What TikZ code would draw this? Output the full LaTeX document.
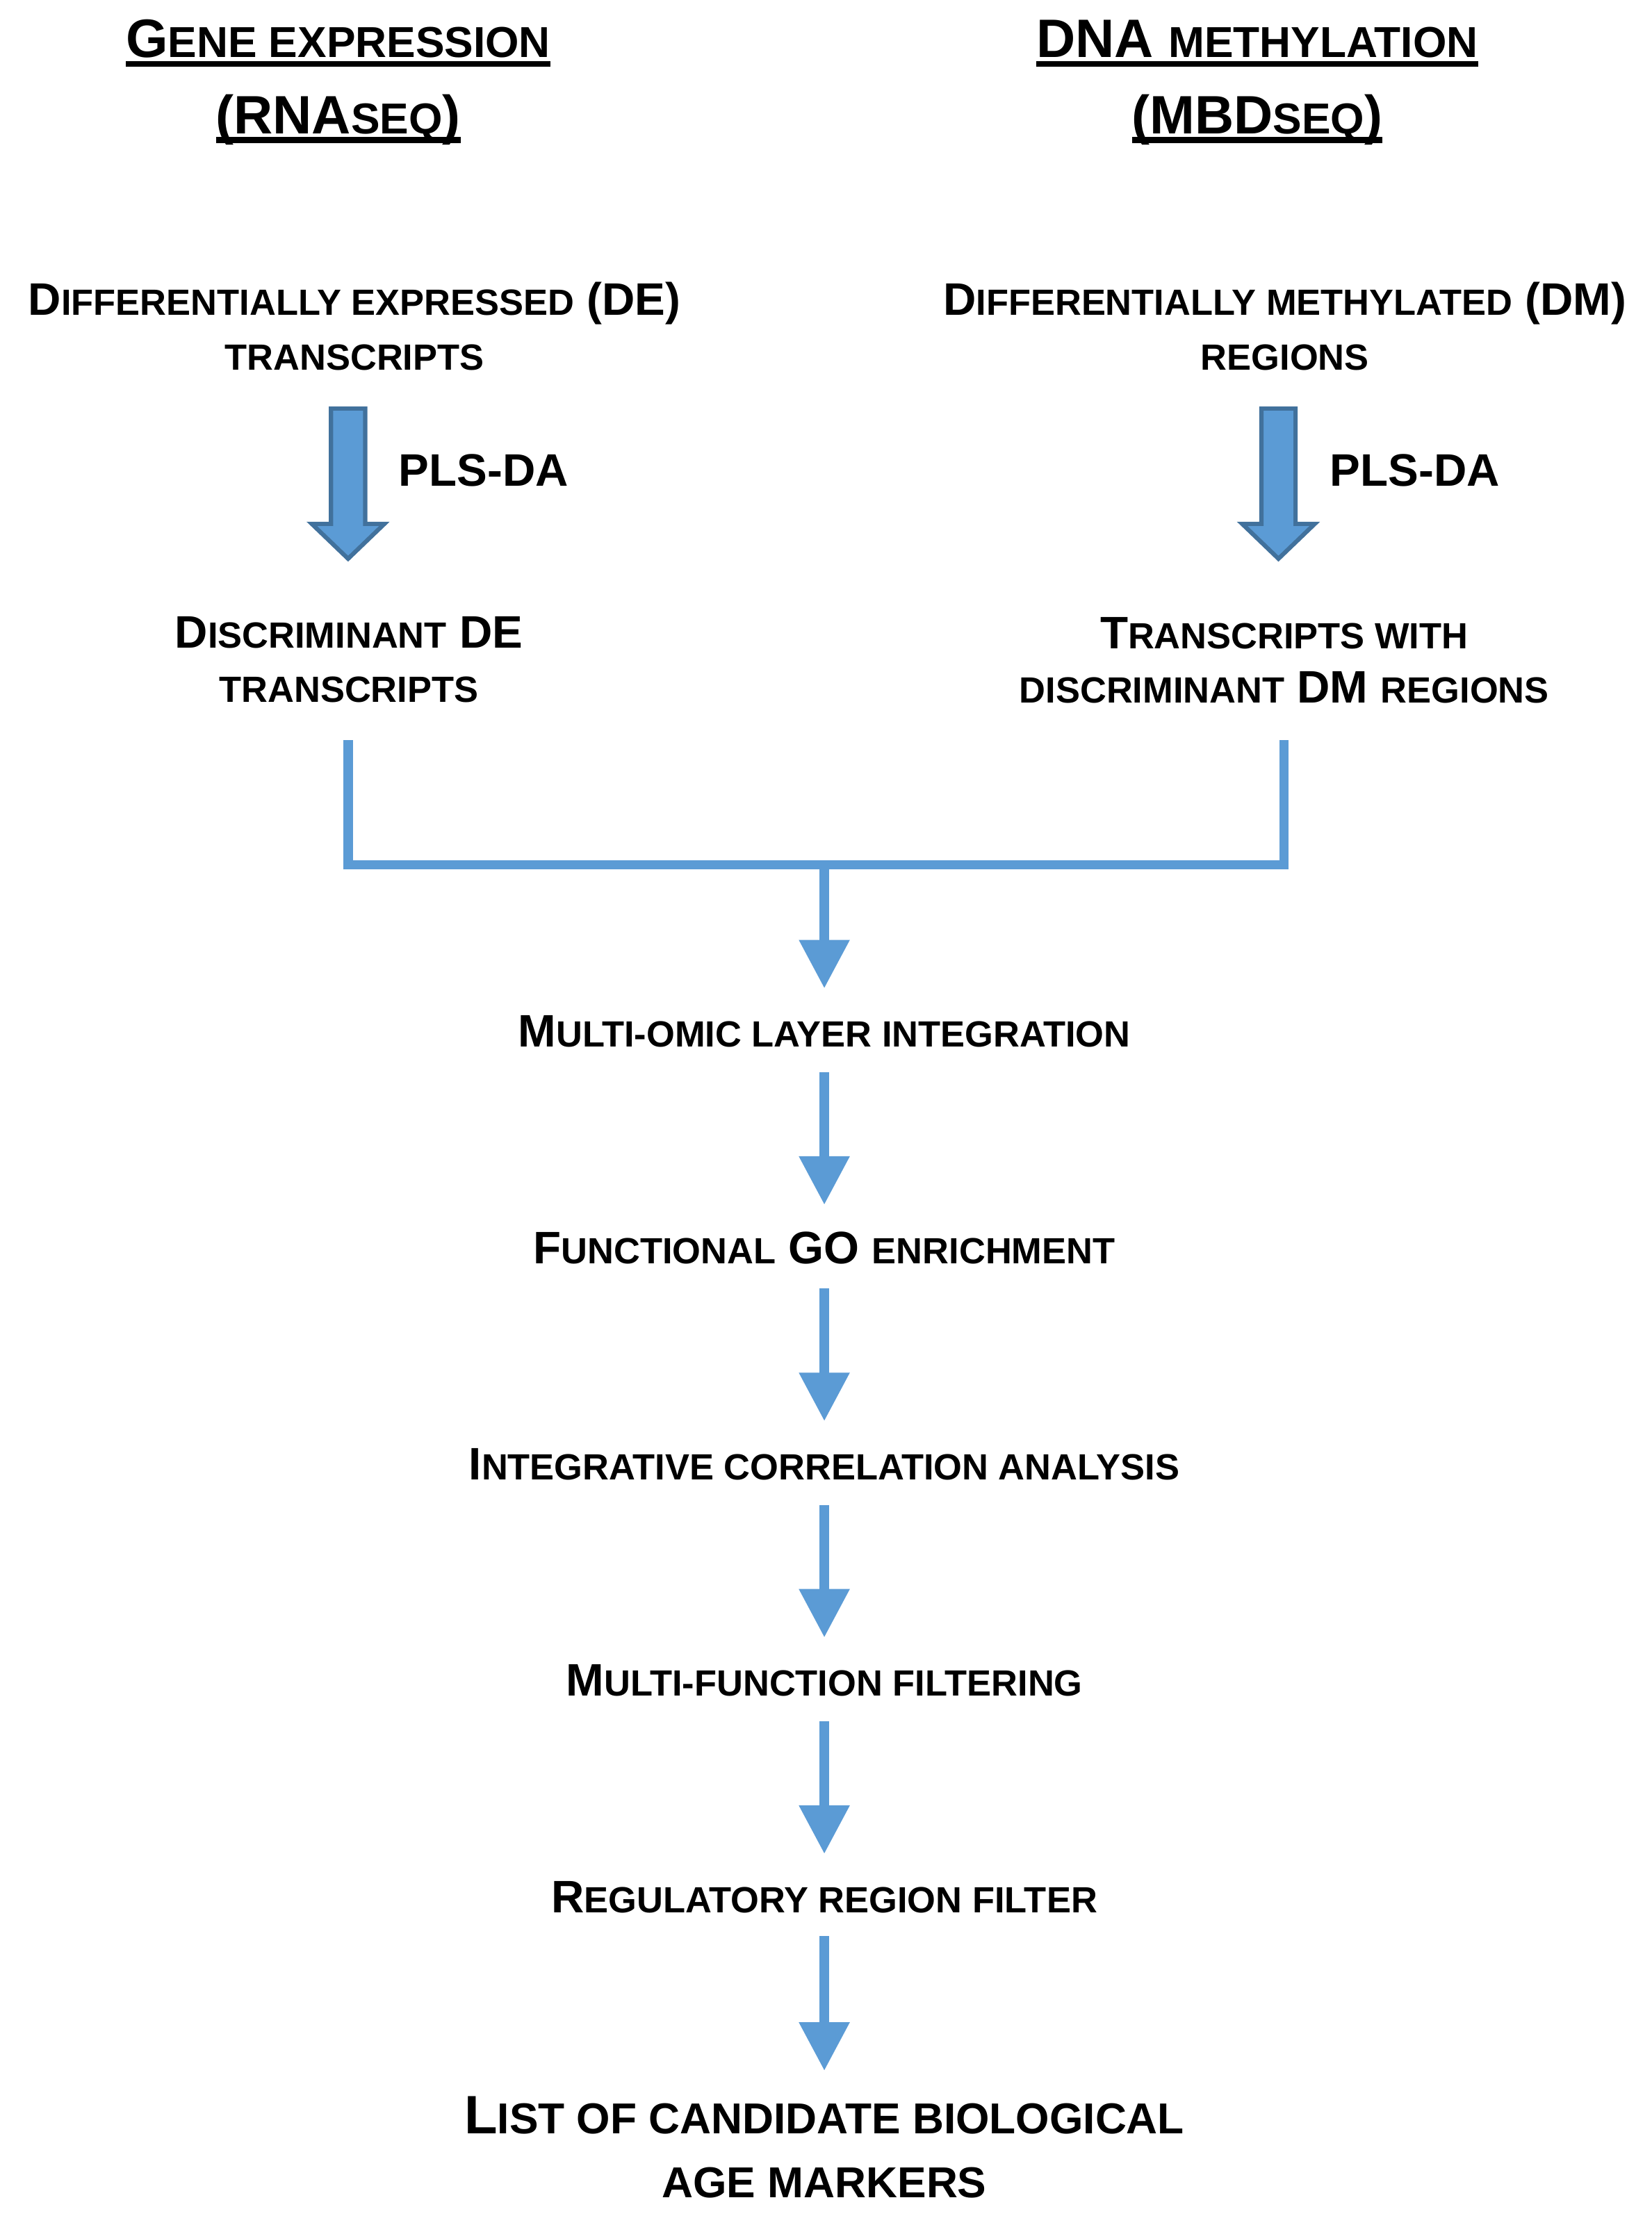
\documentclass[tikz,border=0pt]{standalone}
\usepackage{fontspec}
\setmainfont{Liberation Sans}
\usetikzlibrary{arrows.meta,calc}
\definecolor{flowblue}{HTML}{5B9BD5}
\definecolor{edgeblue}{HTML}{41719C}
\newcommand\smc[1]{{\fontsize{25.6}{30}\selectfont #1}}
\newcommand\smct[1]{{\fontsize{30.4}{36}\selectfont #1}}
\newsavebox\ttlbox
\newcommand\ttlbar[1]{\sbox\ttlbox{#1}\rlap{\rule[-6.5pt]{\wd\ttlbox}{4pt}}\usebox\ttlbox}
\begin{document}
\begin{tikzpicture}[x=1pt, y=-1pt,
heading/.style={font=\fontsize{38}{53.5}\selectfont\bfseries, align=center, anchor=base, inner sep=0pt},
txt/.style={font=\fontsize{32}{38.5}\selectfont\bfseries, align=center, anchor=base, inner sep=0pt},
stage/.style={txt, text height=23.5pt, text depth=0pt},
flow/.style={draw=flowblue, line width=6.5pt},
flowarrow/.style={flow, -{Triangle[length=34pt,width=34pt]}},
fatarrow/.style={draw=edgeblue, fill=flowblue, line width=3pt},
]
\path[use as bounding box, fill=white] (0,0) rectangle (1160,1568);

% the two omic layers (base = last line)
\node[heading] (rna) at (237.5,93.9) {\ttlbar{G\smct{ENE EXPRESSION}}\\\ttlbar{(RNA\smct{SEQ})}};
\node[heading] (mbd) at (883,93.9) {\ttlbar{DNA \smct{METHYLATION}}\\\ttlbar{(MBD\smct{SEQ})}};

\node[txt] (de) at (249,260) {D\smc{IFFERENTIALLY EXPRESSED} (DE)\\\smc{TRANSCRIPTS}};
\node[txt] (dmr) at (902.5,260) {D\smc{IFFERENTIALLY METHYLATED} (DM)\\\smc{REGIONS}};

% PLS-DA steps
\coordinate (pl) at (244.5,285.5);
\coordinate (pr) at (898,285.5);
\foreach \c in {pl,pr}
	\draw[fatarrow] (\c) ++(-12,1.5) -- ++(24,0) -- ++(0,81) -- ++(13.5,0)
		-- ++(-25.5,24.5) -- ++(-25.5,-24.5) -- ++(13.5,0) -- cycle;
\node[txt, anchor=base west] (plsl) at (280,341.5) {PLS-DA};
\node[txt, anchor=base west] (plsr) at (934,341.5) {PLS-DA};

\node[txt] (dde) at (245,493.5) {D\smc{ISCRIMINANT} DE\\\smc{TRANSCRIPTS}};
\node[txt] (tdm) at (902,494) {T\smc{RANSCRIPTS WITH}\\\smc{DISCRIMINANT} DM \smc{REGIONS}};

% merge
\coordinate (ddeout) at (244.5,520);
\coordinate (tdmout) at (902,520);
\coordinate (mrg) at (579,607.5);
\draw[flow] (ddeout) |- (mrg) -| (tdmout);

% pipeline
\node[stage] (moi) at (579,735.5) {M\smc{ULTI-OMIC LAYER INTEGRATION}};
\node[stage] (go) at (579,887.5) {F\smc{UNCTIONAL} GO \smc{ENRICHMENT}};
\node[stage] (ica) at (579,1039.5) {I\smc{NTEGRATIVE CORRELATION ANALYSIS}};
\node[stage] (mff) at (579,1191.5) {M\smc{ULTI-FUNCTION FILTERING}};
\node[stage] (rrf) at (579,1343.5) {R\smc{EGULATORY REGION FILTER}};
\node[heading, font=\fontsize{38}{45}\selectfont\bfseries] (lst) at (579,1544) {L\smct{IST OF CANDIDATE BIOLOGICAL}\\\smct{AGE MARKERS}};

\draw[flowarrow] (mrg) -- ([yshift=17.5pt]moi.north);
\foreach \a/\b in {moi/go,go/ica,ica/mff,mff/rrf}
	\draw[flowarrow] ([yshift=-17.5pt]\a.south) -- ([yshift=17.5pt]\b.north);
\draw[flowarrow] ([yshift=-16.5pt]rrf.south) -- ([yshift=18pt]lst.north);
\end{tikzpicture}
\end{document}
